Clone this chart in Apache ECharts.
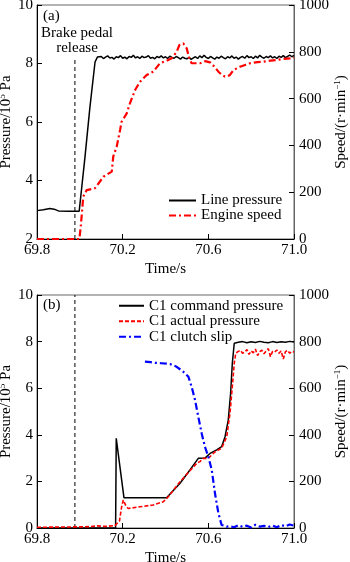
<!DOCTYPE html>
<html>
<head>
<meta charset="utf-8">
<script src="https://cdn.jsdelivr.net/npm/echarts@6/dist/echarts.min.js"></script>
<style>
  html, body { margin: 0; padding: 0; background: #fff; }
  #chart { width: 350px; height: 562px; }
</style>
</head>
<body>
<div id="chart"></div>
<script>
// ─── data ──────────────────────────────────────────────────────────────────

const timeTicks = [69.8, 70.2, 70.6, 71.0];
const brakeT = 69.977;

// (a) line pressure, 10^5 Pa
const linePressureT = [69.8, 69.83, 69.86, 69.88, 69.9, 69.95, 69.997, 70.024, 70.047, 70.071, 70.082];
const linePressureV = [2.97, 3.0, 3.04, 3.02, 2.96, 2.95, 2.95, 4.8, 6.5, 8.05, 8.22];
// steady part, one reading every 10 ms from 70.09 s
const linePressureNoiseStart = 70.09;
const linePressureNoise = [
  8.18, 8.24, 8.17, 8.22, 8.26, 8.19, 8.21, 8.15, 8.23, 8.2,
  8.27, 8.18, 8.22, 8.16, 8.24, 8.21, 8.28, 8.19, 8.23, 8.17,
  8.25, 8.2, 8.22, 8.27, 8.18, 8.21, 8.16, 8.24, 8.2, 8.26,
  8.19, 8.23, 8.17, 8.25, 8.21, 8.18, 8.24, 8.2, 8.15, 8.22,
  8.18, 8.16, 8.21, 8.14, 8.19, 8.23, 8.17, 8.26, 8.2, 8.28,
  8.21, 8.17, 8.24, 8.19, 8.15, 8.22, 8.18, 8.25, 8.2, 8.16,
  8.23, 8.19, 8.26, 8.18, 8.22, 8.15, 8.21, 8.24, 8.18, 8.27,
  8.2, 8.23, 8.17, 8.25, 8.19, 8.28, 8.22, 8.18, 8.24, 8.2,
  8.26, 8.19, 8.23, 8.17, 8.25, 8.21, 8.27, 8.2, 8.24, 8.29,
  8.23, 8.28
];

// (a) engine speed, r/min
const engineT = [69.8, 69.998, 70.005, 70.016, 70.032, 70.071, 70.11, 70.149, 70.156, 70.172,
  70.188, 70.195, 70.219, 70.234, 70.258, 70.281, 70.312, 70.343, 70.374, 70.405,
  70.429, 70.452, 70.465, 70.483, 70.499, 70.51, 70.522, 70.561, 70.585, 70.608,
  70.63, 70.647, 70.665, 70.678, 70.69, 70.701, 70.717, 70.748, 70.775, 70.795,
  70.83, 70.857, 70.89, 70.919, 70.95, 70.989, 71.0];
const engineV = [0, 0, 60, 181, 209, 217, 266, 288, 352, 394,
  466, 501, 537, 580, 637, 672, 701, 715, 751, 762,
  772, 800, 829, 836, 815, 775, 751, 751, 760, 755,
  735, 715, 700, 694, 696, 701, 722, 736, 745, 751,
  756, 758, 762, 765, 770, 772, 775];

// (b) C1 command pressure
const cmdT = [69.8, 70.167, 70.17, 70.206, 70.405, 70.468, 70.514, 70.553, 70.584, 70.608,
  70.639, 70.662, 70.678, 70.693, 70.704, 70.712, 70.721];
const cmdV = [0, 0, 3.85, 1.3, 1.3, 1.92, 2.49, 2.99, 3.0, 3.2,
  3.35, 3.49, 3.92, 4.63, 5.78, 7.07, 7.93];
// steady part, every 20 ms from 70.74 s
const cmdNoiseStart = 70.74;
const cmdNoise = [7.97, 8.0, 7.95, 7.99, 7.96, 8.01, 7.97, 7.95, 8.0, 7.96, 7.99, 7.97, 8.01, 7.98];

// (b) C1 actual pressure
const actT = [69.8, 69.9, 70.0, 70.05, 70.08, 70.12, 70.164, 70.185, 70.195, 70.203,
  70.215, 70.226, 70.281, 70.343, 70.39, 70.413, 70.468, 70.546, 70.561, 70.576,
  70.6, 70.631, 70.662, 70.686, 70.701, 70.712, 70.721, 70.728];
const actV = [0.03, 0.04, 0.05, 0.06, 0.09, 0.07, 0.1, 0.3, 0.9, 1.2,
  0.95, 0.84, 0.91, 0.99, 1.13, 1.34, 1.99, 2.78, 2.85, 2.99,
  2.99, 3.27, 3.42, 3.92, 4.92, 6.06, 7.07, 7.5];
// steady part, every 10 ms from 70.74 s
const actNoiseStart = 70.74;
const actNoise = [7.58, 7.62, 7.5, 7.55, 7.66, 7.45, 7.6, 7.52, 7.68, 7.4,
  7.57, 7.63, 7.48, 7.6, 7.7, 7.35, 7.58, 7.55, 7.64, 7.5,
  7.6, 7.25, 7.57, 7.62, 7.5, 7.58, 7.55];

// (b) C1 clutch slip, r/min
const slipT = [70.304, 70.33, 70.351, 70.38, 70.421, 70.452, 70.483, 70.507, 70.522, 70.538,
  70.553, 70.569, 70.584, 70.6, 70.616, 70.631, 70.647, 70.662, 70.686];
const slipV = [714, 712, 709, 707, 704, 692, 671, 649, 606, 549,
  478, 406, 349, 306, 249, 149, 63, 13, 6];
// near-zero tail, every 20 ms from 70.70 s
const slipNoiseStart = 70.70;
const slipNoise = [8, 3, 12, 5, 10, 2, 14, 6, 9, 4, 11, 3, 13, 7, 15, 10];

// ─── helpers ───────────────────────────────────────────────────────────────

function zip(ts, vs) {
  return ts.map((t, i) => [t, vs[i]]);
}
function withTail(pts, start, step, vals) {
  return pts.concat(vals.map((v, i) => [+(start + i * step).toFixed(3), v]));
}

const FONT = "Liberation Serif, Times New Roman, serif";
const txt = { color: "#000", fontFamily: FONT, fontSize: 15 };
const dashDot = [7, 3, 2, 3];

function timeAxis(gridIndex) {
  return {
    type: "value", gridIndex, min: 69.8, max: 71.0,
    name: "Time/s", nameLocation: "middle", nameGap: 23, nameMoveOverlap: false,
    nameTextStyle: txt,
    axisLine: { lineStyle: { color: "#000", width: 1 } },
    axisTick: { inside: true, length: 5, customValues: timeTicks, lineStyle: { color: "#000" } },
    axisLabel: { ...txt, margin: 4, customValues: timeTicks, formatter: (v) => v.toFixed(1) },
    splitLine: { show: false },
  };
}

const sup = { fontSize: 9, fontFamily: FONT, color: "#000", padding: [0, 0, 8, 0] };

function pressureAxis(gridIndex, min) {
  return {
    type: "value", gridIndex, position: "left", min, max: 10, interval: 2,
    name: "Pressure/10{sup|5} Pa", nameLocation: "middle", nameGap: 22, nameRotate: 90,
    nameMoveOverlap: false,
    nameTextStyle: { ...txt, rich: { sup } },
    axisLine: { show: true, lineStyle: { color: "#000", width: 1 } },
    axisTick: { inside: true, length: 5, lineStyle: { color: "#000" } },
    axisLabel: { ...txt, margin: 4, formatter: (v) => String(v) },
    splitLine: { show: false },
  };
}

function speedAxis(gridIndex) {
  return {
    type: "value", gridIndex, position: "right", min: 0, max: 1000, interval: 200,
    name: "Speed/(r·min{sup|−1})", nameLocation: "middle", nameGap: 39, nameRotate: 90,
    nameMoveOverlap: false,
    nameTextStyle: { ...txt, rich: { sup } },
    axisLine: { show: true, lineStyle: { color: "#666", width: 1 } },
    axisTick: { inside: true, length: 5, lineStyle: { color: "#000" } },
    axisLabel: { ...txt, margin: 5, formatter: (v) => String(v) },
    splitLine: { show: false },
  };
}

function lineSeries(name, xi, yi, data, color, width, type) {
  return {
    name, type: "line", xAxisIndex: xi, yAxisIndex: yi, data,
    symbol: "none", showSymbol: false, smooth: false, silent: true,
    lineStyle: { color, width, type },
    itemStyle: { color },
    z: 3,
  };
}

const gridBase = {
  left: 37, width: 257, show: true, borderColor: "#666", borderWidth: 1,
  containLabel: false, outerBoundsMode: "none",
};

// ─── chart ─────────────────────────────────────────────────────────────────

const chart = echarts.init(document.getElementById("chart"), null, { renderer: "canvas" });

chart.setOption({
  animation: false,
  backgroundColor: "#fff",
  textStyle: txt,
  grid: [
    { ...gridBase, top: 5, height: 234 },
    { ...gridBase, top: 295, height: 233 },
  ],
  xAxis: [timeAxis(0), timeAxis(1)],
  yAxis: [pressureAxis(0, 2), speedAxis(0), pressureAxis(1, 0), speedAxis(1)],
  legend: [
    {
      data: ["Line pressure", "Engine speed"],
      left: 163, top: 188, orient: "vertical",
      itemWidth: 27, itemHeight: 10, itemGap: 0,
      itemStyle: { opacity: 0 },
      textStyle: { ...txt, lineHeight: 14 },
      selectedMode: false,
    },
    {
      data: ["C1 command pressure", "C1 actual pressure", "C1 clutch slip"],
      left: 113, top: 293, orient: "vertical",
      itemWidth: 25, itemHeight: 10, itemGap: 0,
      itemStyle: { opacity: 0 },
      textStyle: { ...txt, lineHeight: 15.5 },
      selectedMode: false,
    },
  ],
  graphic: [
    { type: "text", left: 43, top: 9, style: { text: "(a)", font: "15px " + FONT, fill: "#000" } },
    { type: "text", left: 43, top: 298, style: { text: "(b)", font: "15px " + FONT, fill: "#000" } },
    {
      type: "text", x: 77, y: 26,
      style: { text: "Brake pedal\nrelease", font: "15px " + FONT, fill: "#000", align: "center", lineHeight: 15 },
    },
  ],
  series: [
    lineSeries("brake-a", 0, 0, [[brakeT, 2], [brakeT, 8.2]], "#000", 1, [4, 3]),
    lineSeries("brake-b", 1, 2, [[brakeT, 0], [brakeT, 10]], "#000", 1, [4, 3]),
    lineSeries("Line pressure", 0, 0,
      withTail(zip(linePressureT, linePressureV), linePressureNoiseStart, 0.01, linePressureNoise),
      "#000", 1.5, "solid"),
    lineSeries("Engine speed", 0, 1, zip(engineT, engineV), "#ff0000", 2.2, dashDot),
    lineSeries("C1 command pressure", 1, 2,
      withTail(zip(cmdT, cmdV), cmdNoiseStart, 0.02, cmdNoise), "#000", 1.5, "solid"),
    lineSeries("C1 actual pressure", 1, 2,
      withTail(zip(actT, actV), actNoiseStart, 0.01, actNoise), "#ff0000", 1.6, [4, 2]),
    lineSeries("C1 clutch slip", 1, 3,
      withTail(zip(slipT, slipV), slipNoiseStart, 0.02, slipNoise), "#0000ff", 2.2, dashDot),
  ],
});
</script>
</body>
</html>
